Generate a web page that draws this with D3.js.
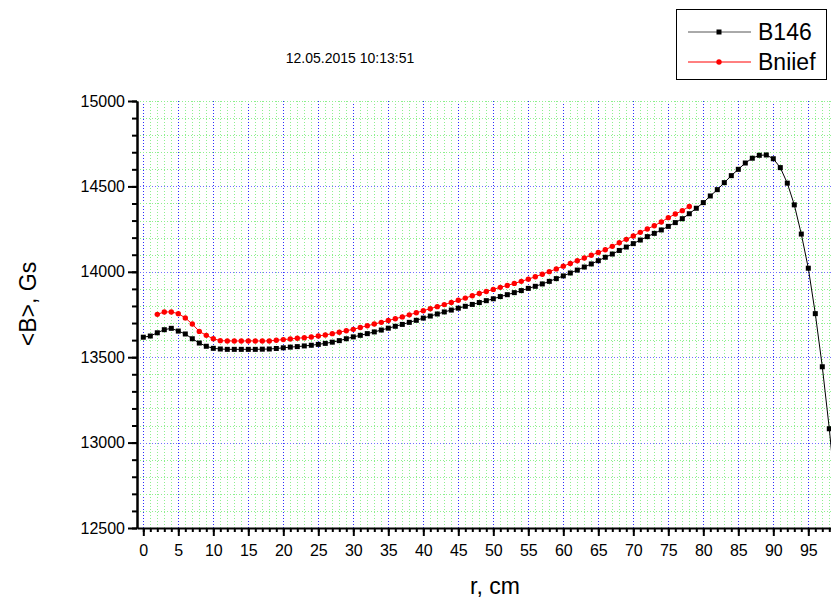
<!DOCTYPE html>
<html>
<head>
<meta charset="utf-8">
<script src="https://cdn.jsdelivr.net/npm/d3@7"></script>
<style>
  body { margin: 0; background: #fff; }
  text { font-family: "Liberation Sans", Arial, sans-serif; }
</style>
</head>
<body>
<div id="chart"></div>
<script>
// data
const rB146 = d3.range(0, 100);
const b146 = [
  13617, 13624, 13643, 13661, 13669, 13653, 13636, 13608, 13583, 13564,
  13552, 13548, 13546, 13546, 13546, 13546, 13546, 13547, 13548, 13551,
  13555, 13559, 13562, 13566, 13570, 13575, 13581, 13588, 13597, 13608,
  13619, 13628, 13638, 13648, 13659, 13670, 13681, 13692, 13704, 13716,
  13729, 13741, 13753, 13765, 13776, 13787, 13798, 13809, 13820, 13831,
  13842, 13855, 13866, 13878, 13890, 13903, 13915, 13929, 13944, 13960,
  13976, 13993, 14010, 14028, 14046, 14065, 14085, 14104, 14125, 14145,
  14165, 14186, 14206, 14225, 14245, 14266, 14288, 14311, 14340, 14372,
  14405, 14444, 14481, 14522, 14563, 14600, 14637, 14665, 14682, 14684,
  14662, 14610, 14519, 14392, 14221, 14021, 13755, 13444, 13081, 12660
];
const rBniief = d3.range(2, 79);
const bniief = [
                13751, 13765, 13765, 13755, 13730, 13694, 13651, 13628,
  13608, 13597, 13595, 13595, 13595, 13595, 13595, 13595, 13595, 13599,
  13603, 13607, 13611, 13614, 13618, 13624, 13630, 13638, 13646, 13655,
  13663, 13674, 13684, 13694, 13704, 13715, 13725, 13736, 13748, 13760,
  13772, 13784, 13796, 13808, 13820, 13833, 13846, 13860, 13873, 13885,
  13897, 13909, 13920, 13932, 13944, 13957, 13971, 13986, 14001, 14017,
  14033, 14049, 14065, 14081, 14097, 14113, 14129, 14149, 14170, 14190,
  14210, 14231, 14251, 14270, 14292, 14317, 14338, 14358, 14383
];
const xTicks = d3.range(0, 100, 5);
const yTicks = [12500, 13000, 13500, 14000, 14500, 15000];
const xMinor = d3.range(0, 99);
const yMinor = d3.range(12500, 15001, 100);
const seriesNames = ["B146", "Bniief"];
const stamp = "12.05.2015 10:13:51";

const W = 831, H = 600;
const margin = {top: 101, right: 0, bottom: 72, left: 137};

const svg = d3.select("#chart")
  .append("svg")
    .attr("width", W)
    .attr("height", H);

const x = d3.scaleLinear()
  .domain([-0.9, 99.1])
  .range([margin.left, margin.left + 700]);

const y = d3.scaleLinear()
  .domain([12500, 15000])
  .range([H - margin.bottom, margin.top]);

const x0 = margin.left, x1 = W, y0 = y(12500), y1 = y(15000);
const px = v => Math.round(v) + 0.5;

// grid - minor green, major blue, all dotted
const grid = svg.append("g").attr("shape-rendering", "crispEdges");
grid.selectAll(".vg")
  .data(xMinor)
  .join("line")
    .attr("x1", d => px(x(d))).attr("x2", d => px(x(d)))
    .attr("y1", y1).attr("y2", y0)
    .attr("stroke", d => d % 5 === 0 ? "#2a2aff" : "#8ef08e")
    .attr("stroke-width", 1)
    .attr("stroke-dasharray", "1,2");

grid.selectAll(".hg")
  .data(yMinor.filter(d => d > 12500))
  .join("line")
    .attr("x1", x0).attr("x2", x1)
    .attr("y1", d => px(y(d))).attr("y2", d => px(y(d)))
    .attr("stroke", d => (d % 500 === 0 && d < 15000) ? "#7070ff" : "#8ef08e")
    .attr("stroke-width", 1)
    .attr("stroke-dasharray", "1,2");

// series
const black = rB146.map((r, i) => [r, b146[i]]);
const red = rBniief.map((r, i) => [r, bniief[i]]);

const line = d3.line()
  .x(d => x(d[0]))
  .y(d => y(d[1]));

svg.append("path")
  .datum(black)
  .attr("fill", "none")
  .attr("stroke", "#000")
  .attr("stroke-width", 1)
  .attr("d", line);

svg.append("path")
  .datum(red)
  .attr("fill", "none")
  .attr("stroke", "#f00")
  .attr("stroke-width", 1)
  .attr("d", line);

svg.append("g")
  .selectAll("rect")
  .data(black)
  .join("rect")
    .attr("x", d => x(d[0]) - 2.5)
    .attr("y", d => y(d[1]) - 2.5)
    .attr("width", 5)
    .attr("height", 5)
    .attr("fill", "#000");

svg.append("g")
  .selectAll("circle")
  .data(red)
  .join("circle")
    .attr("cx", d => x(d[0]))
    .attr("cy", d => y(d[1]))
    .attr("r", 2.7)
    .attr("fill", "#f00");

// axes
svg.append("g")
  .attr("transform", `translate(0,${y0})`)
  .call(d3.axisBottom(x).tickValues(xTicks).tickSize(8).tickSizeOuter(0).tickPadding(9));
svg.append("g")
  .attr("transform", `translate(0,${y0})`)
  .call(d3.axisBottom(x).tickValues(xMinor).tickSize(4).tickSizeOuter(0).tickFormat(""));

svg.append("g")
  .attr("transform", `translate(${x0},0)`)
  .call(d3.axisLeft(y).tickValues(yTicks).tickSize(9).tickSizeOuter(0).tickPadding(3)
    .tickFormat(d3.format("d")));
svg.append("g")
  .attr("transform", `translate(${x0},0)`)
  .call(d3.axisLeft(y).tickValues(yMinor).tickSize(5).tickSizeOuter(0).tickFormat(""));

svg.selectAll(".domain")
  .attr("stroke", "#000")
  .attr("stroke-width", 2);
svg.selectAll(".tick line")
  .attr("stroke", "#000")
  .attr("stroke-width", 2);
svg.selectAll(".tick text")
  .attr("fill", "#000")
  .style("font-size", "16px")
  .style("font-family", "'Liberation Sans', Arial, sans-serif");
// the x axis line runs to the right edge
svg.select(".domain").attr("d", `M${x0},${y0}H${x1 + 10}`);

// axis titles
svg.append("text")
  .attr("x", 495)
  .attr("y", 594)
  .attr("text-anchor", "middle")
  .style("font-size", "23px")
  .text("r, cm");

svg.append("text")
  .attr("transform", `translate(36,304) rotate(-90)`)
  .attr("text-anchor", "middle")
  .style("font-size", "23px")
  .text("<B>, Gs");

svg.append("text")
  .attr("x", 350)
  .attr("y", 63)
  .attr("text-anchor", "middle")
  .style("font-size", "14px")
  .text(stamp);

// legend
const legend = svg.append("g");
legend.append("rect")
  .attr("x", 676.5).attr("y", 9.5)
  .attr("width", 150).attr("height", 70)
  .attr("fill", "#fff")
  .attr("stroke", "#000")
  .attr("stroke-width", 1);

const lrow = legend.selectAll(".row")
  .data(seriesNames)
  .join("g")
    .attr("transform", (d, i) => `translate(0,${32 + i * 30})`);

lrow.append("line")
  .attr("x1", 688).attr("x2", 751)
  .attr("stroke", (d, i) => i === 0 ? "#555" : "#f00")
  .attr("stroke-width", 1);

lrow.filter((d, i) => i === 0).append("rect")
  .attr("x", 716.5).attr("y", -2.5)
  .attr("width", 5).attr("height", 5)
  .attr("fill", "#000");

lrow.filter((d, i) => i === 1).append("circle")
  .attr("cx", 719).attr("r", 2.7)
  .attr("fill", "#f00");

lrow.append("text")
  .attr("x", 758)
  .attr("y", 8)
  .style("font-size", "23px")
  .text(d => d);
</script>
</body>
</html>
